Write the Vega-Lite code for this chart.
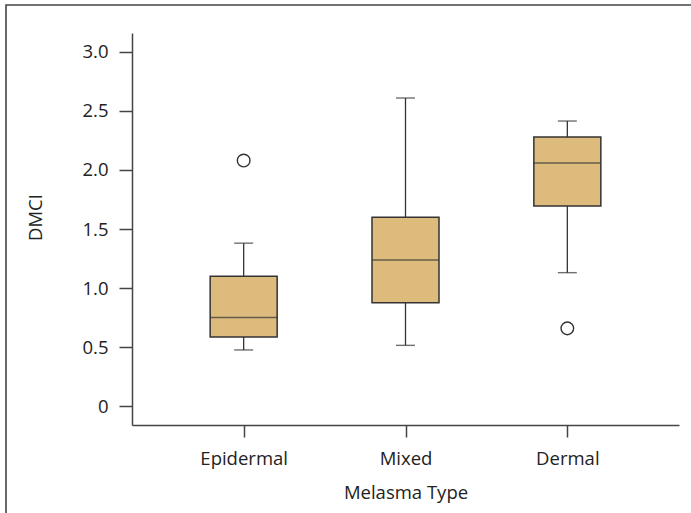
{
  "$schema": "https://vega.github.io/schema/vega-lite/v6.json",
  "width": 700,
  "height": 520,
  "autosize": "none",
  "padding": {"left": 6, "top": 5, "right": 0, "bottom": 0},
  "background": "white",
  "config": {
    "view": {"stroke": "#444", "strokeWidth": 1.6},
    "font": "Open Sans",
    "axisY": {
      "orient": "left",
      "offset": -126,
      "labelExpr": "datum.value === 0 ? '0' : format(datum.value, '.1f')",
      "domainColor": "#444",
      "domainWidth": 1.5,
      "tickColor": "#444",
      "tickWidth": 1.5,
      "tickSize": 13,
      "labelPadding": 11,
      "labelFontSize": 18.5,
      "labelColor": "#222",
      "grid": false,
      "titleFontSize": 18.5,
      "titleFontWeight": "normal",
      "titleColor": "#222",
      "titleAngle": -90,
      "titleX": -97,
      "titleY": 212,
      "titleAlign": "center",
      "titleBaseline": "middle"
    }
  },
  "datasets": {
    "stats": [
      {"type": "Epidermal", "lower": 0.475, "q1": 0.585, "median": 0.75, "q3": 1.10, "upper": 1.38},
      {"type": "Mixed", "lower": 0.514, "q1": 0.875, "median": 1.237, "q3": 1.60, "upper": 2.61},
      {"type": "Dermal", "lower": 1.13, "q1": 1.695, "median": 2.06, "q3": 2.28, "upper": 2.415}
    ],
    "outliers": [
      {"type": "Epidermal", "value": 2.08},
      {"type": "Dermal", "value": 0.658}
    ]
  },
  "encoding": {
    "x": {
      "field": "type",
      "type": "nominal",
      "sort": ["Epidermal", "Mixed", "Dermal"],
      "scale": {"type": "point", "range": [126, 673], "padding": 0.69},
      "axis": {
        "orient": "bottom",
        "offset": -100,
        "title": "Melasma Type",
        "labelAngle": 0,
        "domainColor": "#444",
        "domainWidth": 1.5,
        "tickColor": "#444",
        "tickWidth": 1.5,
        "tickSize": 12,
        "labelPadding": 12,
        "labelFontSize": 18.5,
        "labelColor": "#222",
        "titleFontSize": 18.5,
        "titleFontWeight": "normal",
        "titleColor": "#222",
        "titleY": 67,
        "titleBaseline": "middle",
        "grid": false
      }
    }
  },
  "layer": [
    {
      "data": {"name": "stats"},
      "mark": {"type": "rule", "color": "#333", "strokeWidth": 1.3},
      "encoding": {
        "y": {
          "field": "lower",
          "type": "quantitative",
          "title": "DMCI",
          "scale": {"domain": [-0.161, 3.161], "range": [420, 28], "nice": false, "zero": false},
          "axis": {"values": [0, 0.5, 1, 1.5, 2, 2.5, 3]}
        },
        "y2": {"field": "q1"}
      }
    },
    {
      "data": {"name": "stats"},
      "mark": {"type": "rule", "color": "#333", "strokeWidth": 1.3},
      "encoding": {
        "y": {"field": "q3", "type": "quantitative", "title": "DMCI"},
        "y2": {"field": "upper"}
      }
    },
    {
      "data": {"name": "stats"},
      "mark": {"type": "tick", "color": "#333", "size": 19, "thickness": 1.4},
      "encoding": {
        "y": {"field": "lower", "type": "quantitative", "title": "DMCI"}
      }
    },
    {
      "data": {"name": "stats"},
      "mark": {"type": "tick", "color": "#333", "size": 19, "thickness": 1.4},
      "encoding": {
        "y": {"field": "upper", "type": "quantitative", "title": "DMCI"}
      }
    },
    {
      "data": {"name": "stats"},
      "mark": {"type": "bar", "size": 67, "fill": "#ddbb7d", "stroke": "#333", "strokeWidth": 1.5},
      "encoding": {
        "y": {"field": "q1", "type": "quantitative", "title": "DMCI"},
        "y2": {"field": "q3"}
      }
    },
    {
      "data": {"name": "stats"},
      "mark": {"type": "tick", "color": "#333", "size": 67, "thickness": 1.5},
      "encoding": {
        "y": {"field": "median", "type": "quantitative", "title": "DMCI"}
      }
    },
    {
      "data": {"name": "outliers"},
      "mark": {"type": "point", "shape": "circle", "size": 160, "filled": false, "fill": "white", "fillOpacity": 1, "stroke": "#333", "strokeWidth": 1.4, "opacity": 1},
      "encoding": {
        "y": {"field": "value", "type": "quantitative", "title": "DMCI"}
      }
    }
  ]
}
